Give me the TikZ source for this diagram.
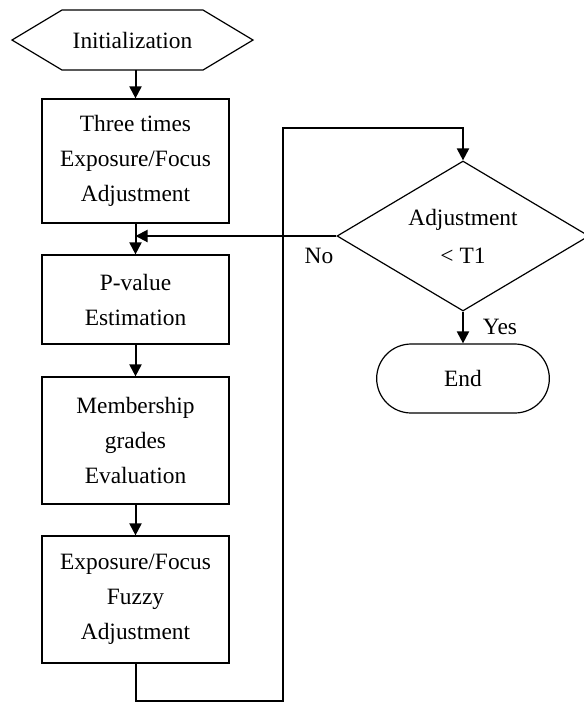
\documentclass[tikz,border=0pt]{standalone}
\usepackage{fontspec}
\setmainfont{Liberation Serif}
\usetikzlibrary{shapes.geometric,shapes.misc,arrows.meta}
\begin{document}
\begin{tikzpicture}[x=0.5pt,y=-0.5pt,
 font=\fontsize{11.7}{17.5}\selectfont,
 proc/.style={draw,line width=0.6pt,minimum width=93.5pt,align=center,inner sep=0pt},
 arr/.style={line width=1pt,-{Triangle[length=6pt,width=6pt]}},
 lbl/.style={inner sep=0pt}]
\useasboundingbox (0,0) rectangle (584,703);
\node[minimum height=30pt,inner sep=0pt] (init) at (132.5,40) {Initialization};
\draw[line width=0.6pt] (12,40) -- (62,10) -- (203,10) -- (253,40) -- (203,70) -- (62,70) -- cycle;
\node[proc,minimum height=62pt] (b1) at (135.5,161) {Three times\\Exposure/Focus\\Adjustment};
\node[proc,minimum height=44.5pt] (b2) at (135.5,299.5) {P-value\\Estimation};
\node[proc,minimum height=63.5pt] (b3) at (135.5,440.5) {Membership\\grades\\Evaluation};
\node[proc,minimum height=63.5pt] (b4) at (135.5,599.5) {Exposure/Focus\\Fuzzy\\Adjustment};
\node[draw,diamond,aspect=1.75,line width=0.6pt,minimum width=126pt,minimum height=75pt,inner sep=0pt,align=center,font=\fontsize{11.7}{19}\selectfont] (dec) at (463,236) {Adjustment\\< T1};
\node[draw,rounded rectangle,line width=0.6pt,minimum width=93pt,minimum height=34.5pt] (end) at (463,378.5) {End};
\coordinate (c1) at (283,701);
\coordinate (c2) at (463,128);
\coordinate (j) at (135.5,236);
\draw[arr] (b1.north |- init.south) -- (b1.north);
\draw[arr] (b1) -- (b2);
\draw[arr] (b2) -- (b3);
\draw[arr] (b3) -- (b4);
\draw[arr] (dec.west) -- (j);
\draw[arr] (dec.south) -- (end.north);
\draw[arr] (b4.south) |- (c1) |- (c2) -- (dec.north);
\node[lbl] (no) at (319,256) {No};
\node[lbl] (yes) at (500,327) {Yes};
\end{tikzpicture}
\end{document}
